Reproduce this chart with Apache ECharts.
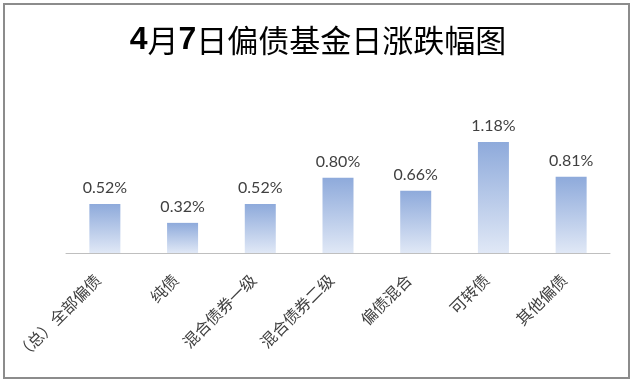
<!DOCTYPE html>
<html>
<head>
<meta charset="utf-8">
<script src="https://cdn.jsdelivr.net/npm/echarts@6/dist/echarts.min.js"></script>
<style>html,body{margin:0;padding:0;background:#fff}#c{width:636px;height:385px}</style>
</head>
<body>
<div id="c"></div>
<script>
const categories = ['（总）全部偏债', '纯债', '混合债券一级', '混合债券二级', '偏债混合', '可转债', '其他偏债'];
const values = [0.52, 0.32, 0.52, 0.80, 0.66, 1.18, 0.81];

const chart = echarts.init(document.getElementById('c'), null, {renderer: 'canvas'});
chart.setOption({
  animation: false,
  backgroundColor: '#fff',
  title: {
    text: '{b|4}{n|月}{b|7}{n|日偏债基金日涨跌幅图}',
    left: 'center',
    top: 19,
    textStyle: {
      rich: {
        b: {fontFamily: 'Liberation Sans', fontWeight: 'bold', fontSize: 32, color: '#000'},
        n: {fontFamily: 'Noto Sans CJK SC', fontWeight: 'normal', fontSize: 31, color: '#000'}
      }
    }
  },
  graphic: [{
    type: 'rect',
    shape: {x: 4, y: 4, width: 625, height: 374},
    style: {fill: 'none', stroke: '#8c8c8c', lineWidth: 2},
    silent: true
  }],
  grid: {left: 66, right: 26, top: 140, bottom: 132},
  xAxis: {
    type: 'category',
    data: categories,
    axisLine: {lineStyle: {color: '#bfbfbf', width: 1}},
    axisTick: {show: false},
    axisLabel: {
      interval: 0,
      rotate: 45,
      margin: 17,
      padding: [0, 10, 0, 0],
      fontFamily: 'Noto Sans CJK SC',
      fontSize: 16,
      color: '#404040'
    }
  },
  yAxis: {
    type: 'value',
    min: 0,
    max: 1.2,
    show: false,
    splitLine: {show: false}
  },
  series: [{
    type: 'bar',
    data: values,
    barWidth: 31,
    itemStyle: {
      color: new echarts.graphic.LinearGradient(0, 0, 0, 1, [
        {offset: 0, color: '#8eaadb'},
        {offset: 1, color: '#e0e8f6'}
      ])
    },
    label: {
      show: true,
      position: 'top',
      distance: 8,
      fontFamily: 'Lato',
      fontSize: 16,
      color: '#404040',
      formatter: p => p.value.toFixed(2) + '%'
    }
  }]
});
</script>
</body>
</html>
